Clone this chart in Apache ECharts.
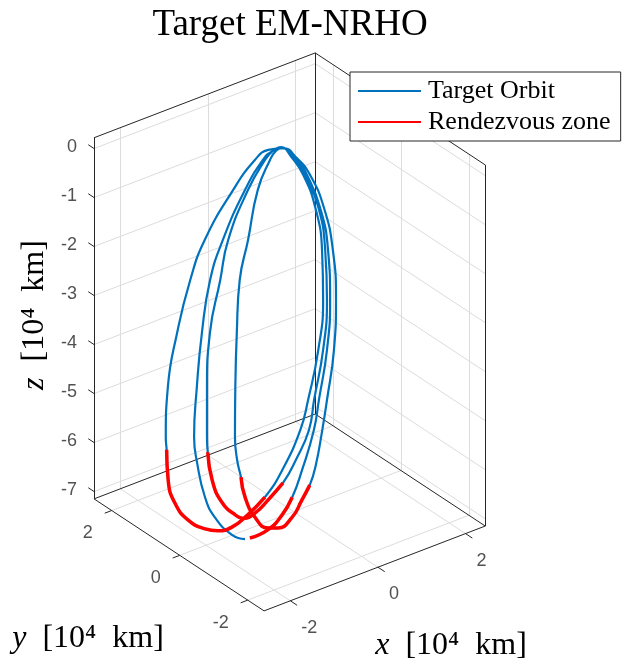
<!DOCTYPE html>
<html><head><meta charset="utf-8">
<script src="https://cdn.jsdelivr.net/npm/echarts@6/dist/echarts.min.js"></script>
<style>html,body{margin:0;padding:0;background:#fff}#c{width:623px;height:661px}</style>
</head><body><div id="c"></div>
<script>
// ---- axis limits and ticks (10^4 km) ----
const xLim = [-2.6, 2.45];
const yLim = [-2.48, 2.52];
const zLim = [-7.15, 0.22];
const xTicks = [-2, 0, 2];
const yTicks = [-2, 0, 2];
const zTicks = [0, -1, -2, -3, -4, -5, -6, -7];
const xTickLabels = ['-2', '0', '2'];
const yTickLabels = ['-2', '0', '2'];
const zTickLabels = ['0', '-1', '-2', '-3', '-4', '-5', '-6', '-7'];

// ---- target orbit (10^4 km), one continuous trajectory ----
const orbitX = [-1.68,-1.60,-1.50,-1.39,-1.25,-1.06,-0.92,-0.69,-0.47,-0.27,-0.12,-0.02,0.02,0.02,
  -0.02,-0.10,-0.28,-0.57,-0.77,-1.03,-1.28,-1.49,-1.54,-1.66,-1.74,-1.77,-1.76,-1.74,-1.68,-1.59,-1.47,-1.31,-1.09,-0.95,-0.71,-0.49,-0.29,-0.13,-0.03,0.01,0.02,
  -0.01,-0.07,-0.24,-0.50,-0.69,-0.94,-1.17,-1.38,-1.44,-1.54,-1.61,-1.62,-1.61,-1.56,-1.47,-1.36,-1.23,-1.07,-0.93,-0.70,-0.48,-0.28,-0.12,-0.03,0.01,0.02,
  -0.01,-0.06,-0.22,-0.45,-0.64,-0.87,-1.09,-1.30,-1.39,-1.45,-1.52,-1.58,-1.59,-1.56,-1.48,-1.38,-1.30,-1.20,-1.03,-0.90,-0.67,-0.46,-0.26,-0.11,-0.01,0.02,0.03,
  -0.02,-0.08,-0.25,-0.52,-0.72,-0.96,-1.20,-1.41,-1.51,-1.63,-1.69,-1.71,-1.70];
const orbitY = [-0.88,-1.30,-1.59,-1.75,-1.86,-1.96,-1.93,-1.87,-1.68,-1.36,-0.93,-0.42,-0.05,0.37,
  0.72,1.01,1.42,1.88,2.05,2.10,2.05,1.84,1.75,1.55,1.25,0.82,0.33,-0.01,-0.35,-0.70,-1.05,-1.35,-1.60,-1.65,-1.64,-1.50,-1.21,-0.80,-0.32,0.06,0.40,
  0.59,0.75,1.03,1.28,1.27,1.25,1.04,0.77,0.67,0.41,0.04,-0.37,-0.64,-0.88,-1.14,-1.44,-1.65,-1.83,-1.80,-1.77,-1.60,-1.29,-0.88,-0.37,0.01,0.37,
  0.51,0.62,0.77,0.76,0.76,0.55,0.31,0.05,-0.13,-0.32,-0.53,-0.90,-1.29,-1.55,-1.86,-2.02,-2.15,-2.20,-2.17,-2.14,-2.05,-1.84,-1.49,-1.03,-0.50,-0.07,0.35,
  0.61,0.80,1.11,1.41,1.53,1.46,1.30,1.11,0.89,0.51,0.14,-0.40,-0.76];
const orbitZ = [-6.71,-6.38,-5.98,-5.58,-5.02,-4.23,-3.67,-2.76,-1.90,-1.09,-0.47,-0.08,0.08,0.09,
  -0.09,-0.40,-1.14,-2.27,-3.10,-4.11,-5.11,-5.96,-6.16,-6.65,-6.95,-7.09,-7.05,-6.94,-6.73,-6.35,-5.87,-5.24,-4.38,-3.79,-2.86,-1.98,-1.16,-0.52,-0.12,0.04,0.10,
  -0.05,-0.29,-0.97,-2.02,-2.77,-3.75,-4.68,-5.51,-5.75,-6.17,-6.42,-6.49,-6.44,-6.24,-5.89,-5.44,-4.92,-4.28,-3.73,-2.80,-1.93,-1.13,-0.49,-0.10,0.06,0.09,
  -0.02,-0.24,-0.86,-1.80,-2.55,-3.46,-4.38,-5.20,-5.56,-5.80,-6.09,-6.31,-6.35,-6.24,-5.91,-5.52,-5.18,-4.78,-4.14,-3.59,-2.68,-1.83,-1.04,-0.43,-0.05,0.09,0.10,
  -0.07,-0.31,-1.01,-2.07,-2.88,-3.84,-4.79,-5.65,-6.05,-6.52,-6.75,-6.86,-6.78];
// rendezvous zone: index ranges (inclusive) into the orbit arrays
const zoneStart = [0, 22, 49, 76];
const zoneEnd   = [3, 30, 56, 83];

// ---- view (orthographic, MATLAB default-like az/el), layout only ----
const VIEW = { ux: [43.8, -34, 0], vy: [16.8, 22.4, 49], origin: [293.6, 161.3], W: 623, H: 661 };
function P(x, y, z) {
  return [VIEW.ux[0]*x + VIEW.ux[1]*y + VIEW.ux[2]*z,
          VIEW.vy[0]*x + VIEW.vy[1]*y + VIEW.vy[2]*z];
}
const [x0, x1] = xLim, [y0, y1] = yLim, [z0, z1] = zLim;

const gridSegs = [];
xTicks.forEach(t => { gridSegs.push([P(t,y0,z0), P(t,y1,z0)]); gridSegs.push([P(t,y1,z0), P(t,y1,z1)]); });
yTicks.forEach(t => { gridSegs.push([P(x0,t,z0), P(x1,t,z0)]); gridSegs.push([P(x1,t,z0), P(x1,t,z1)]); });
zTicks.forEach(t => { gridSegs.push([P(x0,y1,t), P(x1,y1,t)]); gridSegs.push([P(x1,y1,t), P(x1,y0,t)]); });

const boxSegs = [
  [P(x0,y1,z0), P(x0,y1,z1)], [P(x0,y1,z1), P(x1,y1,z1)], [P(x1,y1,z0), P(x1,y1,z1)],
  [P(x1,y1,z1), P(x1,y0,z1)], [P(x1,y0,z0), P(x1,y0,z1)],
  [P(x0,y0,z0), P(x0,y1,z0)], [P(x0,y0,z0), P(x1,y0,z0)],
  [P(x0,y1,z0), P(x1,y1,z0)], [P(x1,y0,z0), P(x1,y1,z0)]
];
zTicks.forEach(t => boxSegs.push([P(x0,y1,t), P(x0,y1+0.17,t)]));
yTicks.forEach(t => boxSegs.push([P(x0,t,z0), P(x0-0.16,t,z0)]));
xTicks.forEach(t => boxSegs.push([P(t,y0,z0), P(t,y0-0.2,z0)]));

const orbitPts = orbitX.map((x, i) => P(x, orbitY[i], orbitZ[i]));

const tickFont = { fontFamily: '"Liberation Sans", Arial, sans-serif', fontSize: 18, color: '#262626' };
function labelSeries(items, lab) {
  return { type: 'scatter', symbolSize: 0, silent: true, z: 5, animation: false,
    data: items, label: Object.assign({ show: true, position: 'inside', formatter: '{b}' }, tickFont, lab) };
}

const series = [
  { type: 'lines', coordinateSystem: 'cartesian2d', silent: true, z: 1, animation: false,
    data: gridSegs.map(c => ({ coords: c })), lineStyle: { color: '#DCDCDC', width: 1, opacity: 1, curveness: 0 } },
  { type: 'lines', coordinateSystem: 'cartesian2d', silent: true, z: 2, animation: false,
    data: boxSegs.map(c => ({ coords: c })), lineStyle: { color: '#262626', width: 1, opacity: 1, curveness: 0 } },
  { type: 'line', name: 'Target Orbit', data: orbitPts, symbol: 'none', smooth: 0.5, z: 3, animation: false,
    color: '#0072BD', lineStyle: { color: '#0072BD', width: 2.2 } }
];
zoneStart.forEach((s, k) => {
  series.push({ type: 'line', name: 'Rendezvous zone', data: orbitPts.slice(s, zoneEnd[k] + 1), symbol: 'none',
    smooth: 0.5, z: 4, animation: false, color: '#FF0000', lineStyle: { color: '#FF0000', width: 3.5 } });
});
series.push(labelSeries(zTicks.map((t, i) => ({ name: zTickLabels[i], value: P(x0, y1, t) })),
  { align: 'right', verticalAlign: 'middle', offset: [-17, -2] }));
series.push(labelSeries(yTicks.map((t, i) => ({ name: yTickLabels[i], value: P(x0, t, z0) })),
  { align: 'right', verticalAlign: 'middle', offset: [-19, 23] }));
series.push(labelSeries(xTicks.map((t, i) => ({ name: xTickLabels[i], value: P(t, y0, z0) })),
  { align: 'left', verticalAlign: 'middle', offset: [11, 27] }));

const serif = '"Liberation Serif", "Times New Roman", serif';
const axRich = { i: { fontStyle: 'italic', fontFamily: serif, fontSize: 32, fill: '#000' } };

const chart = echarts.init(document.getElementById('c'), null, { renderer: 'canvas' });
chart.setOption({
  animation: false,
  backgroundColor: '#fff',
  grid: { left: 0, right: 0, top: 0, bottom: 0 },
  xAxis: { type: 'value', min: -VIEW.origin[0], max: VIEW.W - VIEW.origin[0], show: false },
  yAxis: { type: 'value', min: VIEW.origin[1] - VIEW.H, max: VIEW.origin[1], show: false },
  legend: {
    data: ['Target Orbit', 'Rendezvous zone'],
    orient: 'vertical', left: 350, top: 72,
    padding: [6, 10, 6, 7], itemWidth: 63, itemHeight: 1, itemGap: 5, selectedMode: false,
    borderColor: '#262626', borderWidth: 1, borderRadius: 0, backgroundColor: '#fff', z: 10,
    textStyle: { fontFamily: serif, fontSize: 26, color: '#000', padding: [0, 0, 0, 2] }
  },
  graphic: [
    { type: 'text', x: 290, y: 25, z: 20, style: { text: 'Target EM-NRHO', fontFamily: serif, fontSize: 37,
      fill: '#000', align: 'center', verticalAlign: 'middle' } },
    { type: 'text', x: 451, y: 646, z: 20, style: { text: '{i|x}  [10\u2074  km]', fontFamily: serif, fontSize: 32,
      fill: '#000', align: 'center', verticalAlign: 'middle', rich: axRich } },
    { type: 'text', x: 88, y: 639, z: 20, style: { text: '{i|y}  [10\u2074  km]', fontFamily: serif, fontSize: 32,
      fill: '#000', align: 'center', verticalAlign: 'middle', rich: axRich } },
    { type: 'text', x: 35, y: 315, rotation: Math.PI / 2, z: 20, style: { text: '{i|z}  [10\u2074  km]', fontFamily: serif, fontSize: 32,
      fill: '#000', align: 'center', verticalAlign: 'middle', rich: axRich } }
  ],
  series: series
});
</script></body></html>
